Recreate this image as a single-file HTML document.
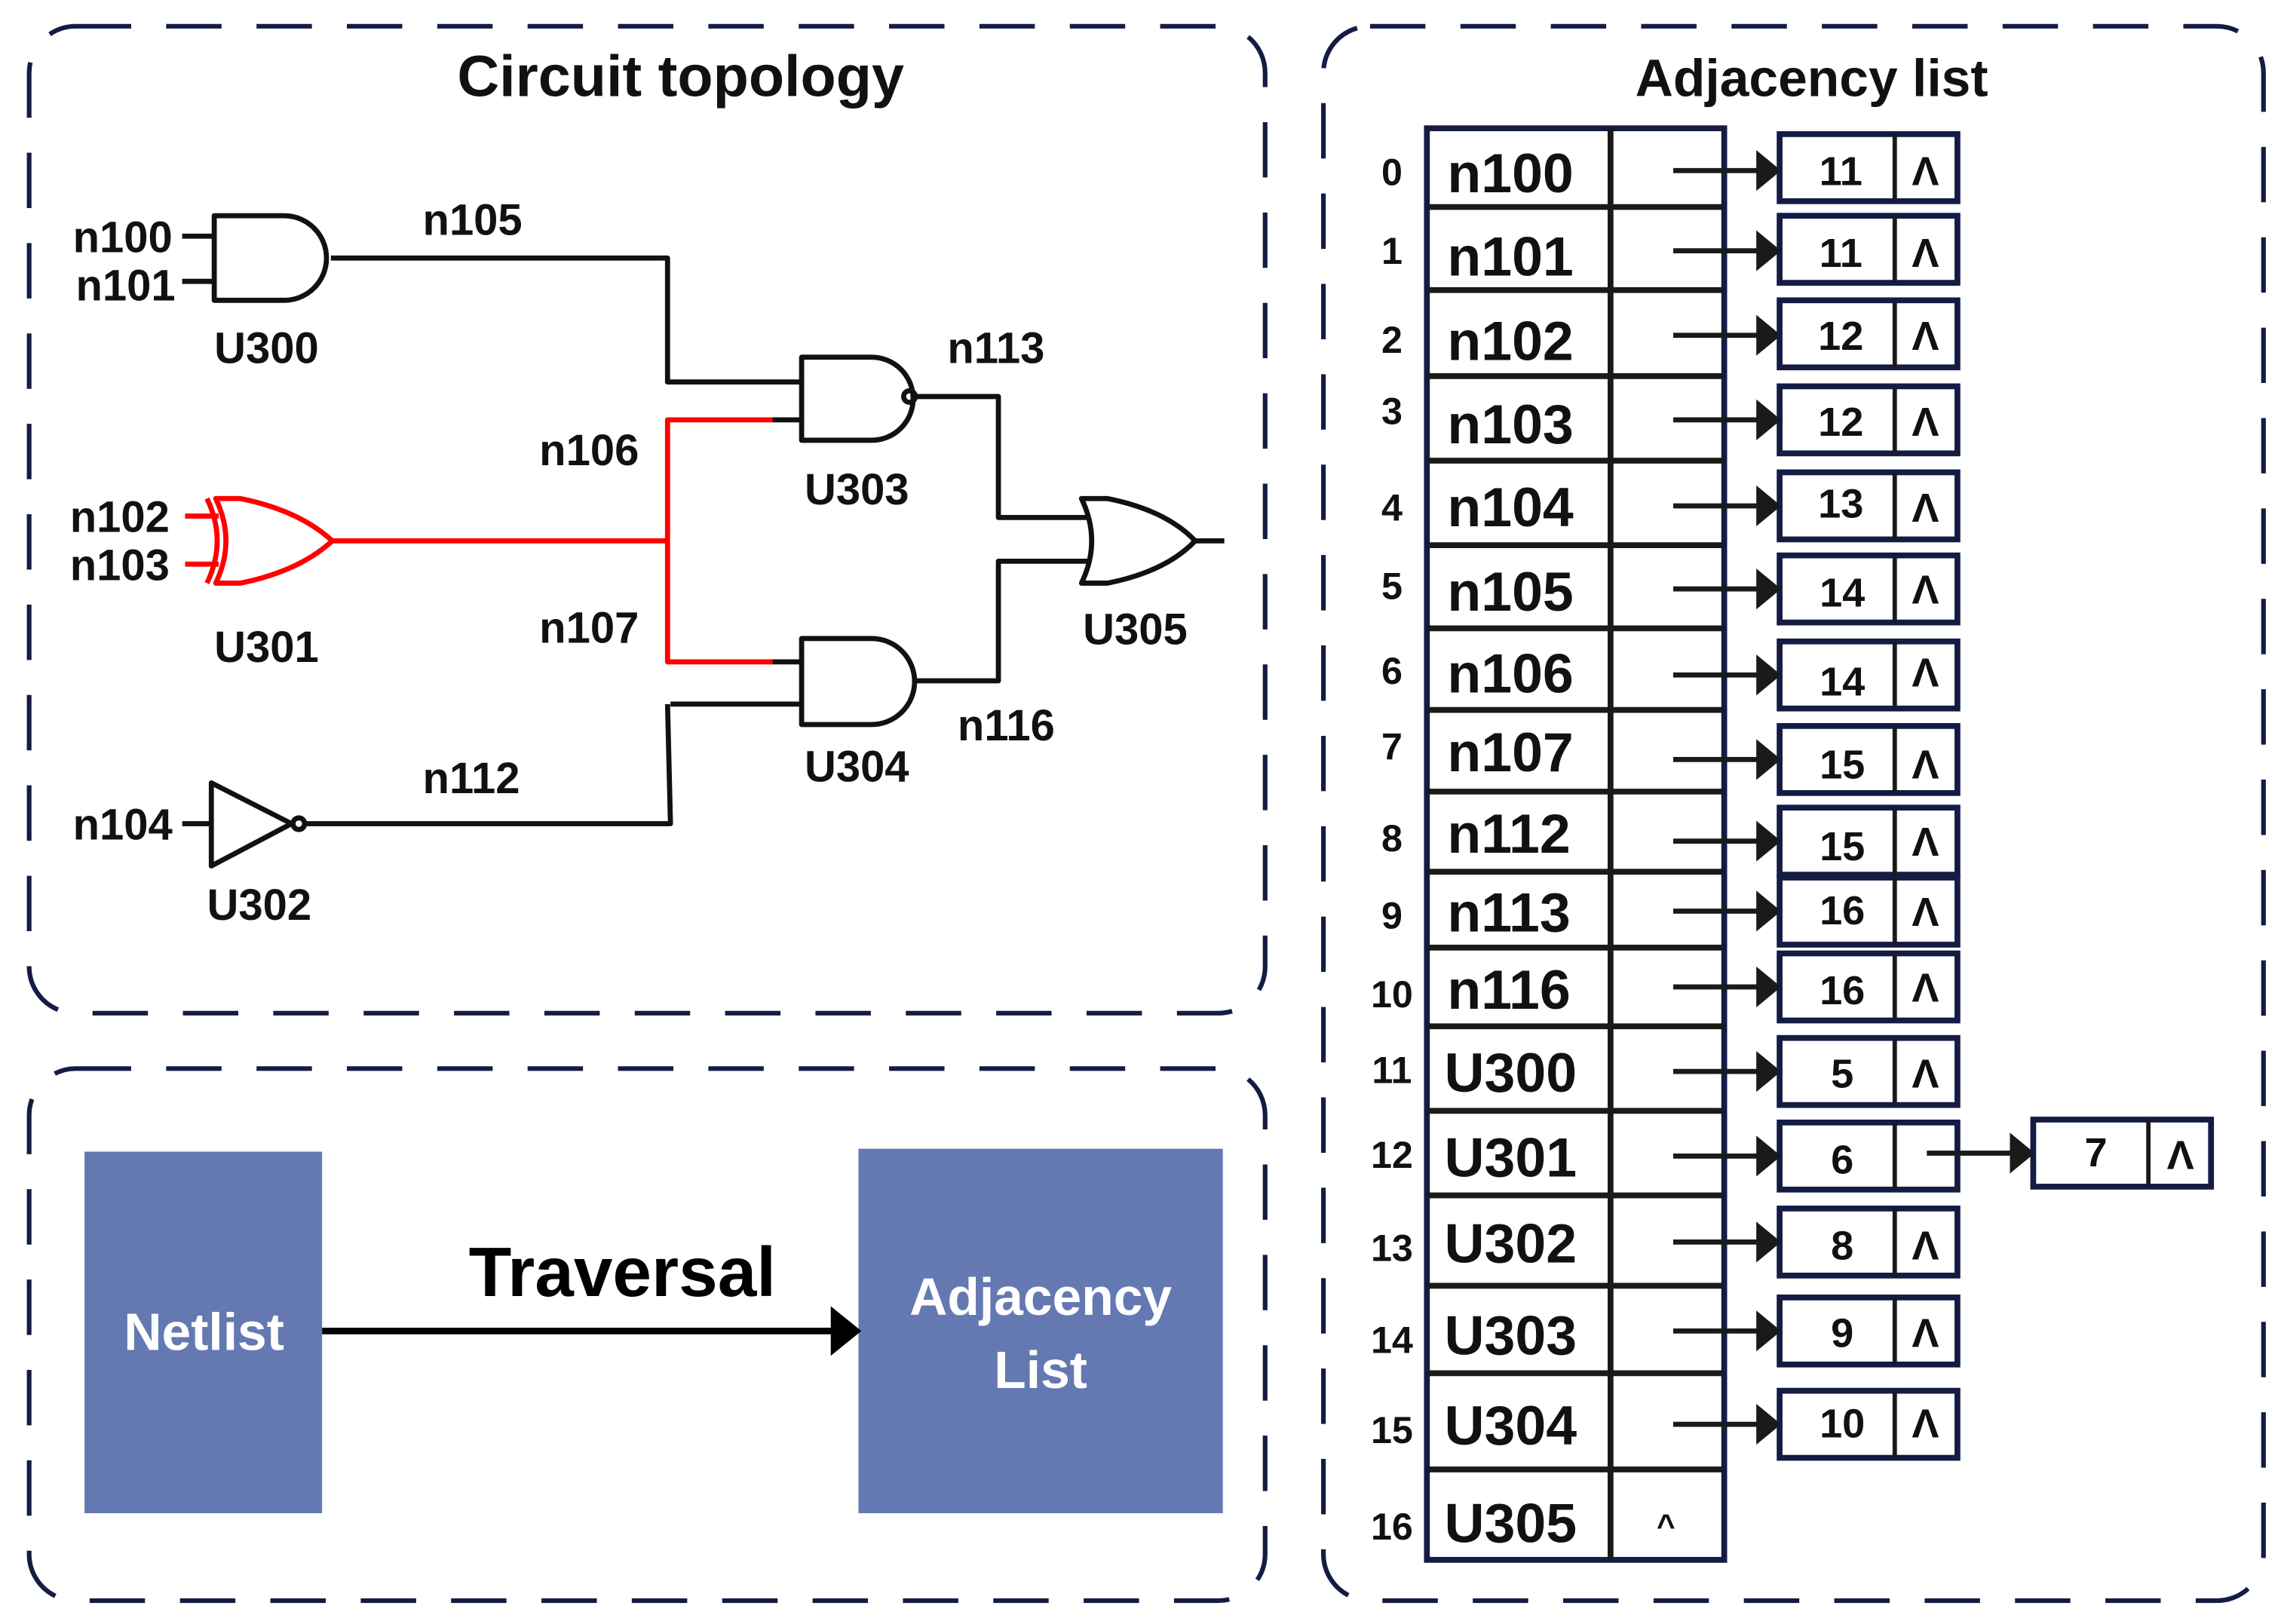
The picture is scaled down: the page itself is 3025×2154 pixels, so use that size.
<!DOCTYPE html>
<html><head><meta charset="utf-8"><style>
html,body{margin:0;padding:0;background:#fff}
svg{display:block}
text{font-family:"Liberation Sans",sans-serif;font-weight:bold;fill:#111}
</style></head><body>
<svg width="3025" height="2154" viewBox="0 0 1565 1114" preserveAspectRatio="none" xmlns="http://www.w3.org/2000/svg">
<g fill="none" stroke="#141c44" stroke-width="3.2" stroke-dasharray="38 24">
<rect x="20" y="18" width="848" height="677" rx="32"/>
<rect x="20" y="733" width="848" height="365" rx="32"/>
<rect x="908" y="18" width="645" height="1080" rx="32"/>
</g>
<text x="467" y="66" font-size="40" text-anchor="middle">Circuit topology</text>
<text x="1243" y="66" font-size="36" text-anchor="middle">Adjacency list</text>

<!-- circuit -->
<g fill="none" stroke="#111" stroke-width="3.5" stroke-linejoin="round">
<line x1="125" y1="162" x2="147" y2="162"/><line x1="125" y1="193" x2="147" y2="193"/>
<path d="M147 148 H195 A29 29 0 0 1 195 206 H147 Z"/>
<path d="M227 177 H458 V262 H550"/>
<line x1="530" y1="288" x2="550" y2="288"/>
<path d="M550 245 H598 A28.5 28.5 0 0 1 598 302 H550 Z"/>
<circle cx="624" cy="272" r="4"/>
<path d="M628 272 H685 V355 H748"/>
<line x1="530" y1="454" x2="550" y2="454"/>
<line x1="460" y1="483" x2="550" y2="483"/>
<path d="M550 438 H598 A29.5 29.5 0 0 1 598 497 H550 Z"/>
<path d="M628 467 H685 V385 H748"/>
<path d="M742 342 H760 Q800 350 820 371 Q800 392 760 400 H742 Q756 371 742 342 Z"/>
<line x1="820" y1="371" x2="840" y2="371"/>
<line x1="125" y1="565" x2="145" y2="565"/>
<path d="M145 537 L200 565 L145 594 Z"/>
<circle cx="205" cy="565" r="4"/>
<path d="M209 565 H460 L458 483"/>
</g>
<g fill="none" stroke="#f00" stroke-width="3.5" stroke-linejoin="round">
<line x1="127" y1="354" x2="150" y2="354"/><line x1="127" y1="387" x2="150" y2="387"/>
<path d="M148 342 H165 Q205 350 228 371 Q205 392 165 400 H148 Q162 371 148 342 Z"/>
<path d="M142 342 Q156 371 142 400"/>
<path d="M228 371 H458"/>
<path d="M530 288 H458 V454 H530"/>
</g>
<g font-size="30">
<text x="50" y="173">n100</text><text x="52" y="206">n101</text>
<text x="147" y="249">U300</text><text x="290" y="161">n105</text>
<text x="650" y="249">n113</text><text x="552" y="346">U303</text>
<text x="370" y="319">n106</text><text x="48" y="365">n102</text>
<text x="48" y="398">n103</text><text x="147" y="454">U301</text>
<text x="370" y="441">n107</text><text x="743" y="442">U305</text>
<text x="657" y="508">n116</text><text x="552" y="536">U304</text>
<text x="290" y="544">n112</text><text x="50" y="576">n104</text>
<text x="142" y="631">U302</text>
</g>

<!-- bottom left -->
<rect x="58" y="790" width="163" height="248" fill="#6479b1"/>
<rect x="589" y="788" width="250" height="250" fill="#6479b1"/>
<line x1="221" y1="913" x2="575" y2="913" stroke="#000" stroke-width="4.5"/>
<path d="M570 896 L591 913 L570 930 Z" fill="#000"/>
<text x="427" y="889" font-size="48" text-anchor="middle" fill="#000" style="fill:#000">Traversal</text>
<text x="140" y="926" font-size="36" text-anchor="middle" style="fill:#fff">Netlist</text>
<text x="714" y="902" font-size="36" text-anchor="middle" style="fill:#fff">Adjacency</text>
<text x="714" y="952" font-size="36" text-anchor="middle" style="fill:#fff">List</text>

<!-- table -->
<g id="tbl"></g>
<rect x="979" y="88" width="204" height="982" fill="none" stroke="#141c44" stroke-width="4"/>
<line x1="1105" y1="88" x2="1105" y2="1070" stroke="#1a1a1a" stroke-width="4"/>
<g stroke="#1a1a1a" stroke-width="4">
<line x1="979" y1="142" x2="1183" y2="142"/><line x1="979" y1="199" x2="1183" y2="199"/>
<line x1="979" y1="258" x2="1183" y2="258"/><line x1="979" y1="316" x2="1183" y2="316"/>
<line x1="979" y1="374" x2="1183" y2="374"/><line x1="979" y1="431" x2="1183" y2="431"/>
<line x1="979" y1="487" x2="1183" y2="487"/><line x1="979" y1="543" x2="1183" y2="543"/>
<line x1="979" y1="598" x2="1183" y2="598"/><line x1="979" y1="650" x2="1183" y2="650"/>
<line x1="979" y1="704" x2="1183" y2="704"/><line x1="979" y1="762" x2="1183" y2="762"/>
<line x1="979" y1="820" x2="1183" y2="820"/><line x1="979" y1="882" x2="1183" y2="882"/>
<line x1="979" y1="942" x2="1183" y2="942"/><line x1="979" y1="1008" x2="1183" y2="1008"/>
</g>
<g font-size="38">
<text x="993" y="132">n100</text><text x="993" y="189">n101</text><text x="993" y="247">n102</text>
<text x="993" y="304">n103</text><text x="993" y="361">n104</text><text x="993" y="419">n105</text>
<text x="993" y="475">n106</text><text x="993" y="529">n107</text><text x="993" y="585">n112</text>
<text x="993" y="639">n113</text><text x="993" y="692">n116</text><text x="991" y="749">U300</text>
<text x="991" y="807">U301</text><text x="991" y="866">U302</text><text x="991" y="929">U303</text>
<text x="991" y="991">U304</text><text x="991" y="1058">U305</text>
</g>
<g font-size="26" text-anchor="middle">
<text x="955" y="127">0</text><text x="955" y="181">1</text><text x="955" y="242">2</text>
<text x="955" y="291">3</text><text x="955" y="357">4</text><text x="955" y="411">5</text>
<text x="955" y="469">6</text><text x="955" y="521">7</text><text x="955" y="584">8</text>
<text x="955" y="637">9</text><text x="955" y="691">10</text><text x="955" y="743">11</text>
<text x="955" y="801">12</text><text x="955" y="865">13</text><text x="955" y="928">14</text>
<text x="955" y="990">15</text><text x="955" y="1056">16</text>
</g>
<text x="1143" y="1054" font-size="22" text-anchor="middle">^</text>

<!-- nodes -->
<g stroke="#141c44" stroke-width="4" fill="none">
<rect x="1221" y="92" width="122" height="46"/><rect x="1221" y="148" width="122" height="46"/>
<rect x="1221" y="206" width="122" height="46"/><rect x="1221" y="265" width="122" height="46"/>
<rect x="1221" y="324" width="122" height="46"/><rect x="1221" y="381" width="122" height="46"/>
<rect x="1221" y="440" width="122" height="46"/><rect x="1221" y="498" width="122" height="46"/>
<rect x="1221" y="554" width="122" height="46"/><rect x="1221" y="602" width="122" height="46"/>
<rect x="1221" y="654" width="122" height="46"/><rect x="1221" y="712" width="122" height="46"/>
<rect x="1221" y="770" width="122" height="46"/><rect x="1221" y="829" width="122" height="46"/>
<rect x="1221" y="890" width="122" height="46"/><rect x="1221" y="954" width="122" height="46"/>
<rect x="1395" y="768" width="122" height="46"/>
</g>
<g stroke="#1a1a1a" stroke-width="3">
<line x1="1300" y1="92" x2="1300" y2="138"/><line x1="1300" y1="148" x2="1300" y2="194"/>
<line x1="1300" y1="206" x2="1300" y2="252"/><line x1="1300" y1="265" x2="1300" y2="311"/>
<line x1="1300" y1="324" x2="1300" y2="370"/><line x1="1300" y1="381" x2="1300" y2="427"/>
<line x1="1300" y1="440" x2="1300" y2="486"/><line x1="1300" y1="498" x2="1300" y2="544"/>
<line x1="1300" y1="554" x2="1300" y2="600"/><line x1="1300" y1="602" x2="1300" y2="648"/>
<line x1="1300" y1="654" x2="1300" y2="700"/><line x1="1300" y1="712" x2="1300" y2="758"/>
<line x1="1300" y1="770" x2="1300" y2="816"/><line x1="1300" y1="829" x2="1300" y2="875"/>
<line x1="1300" y1="890" x2="1300" y2="936"/><line x1="1300" y1="954" x2="1300" y2="1000"/>
<line x1="1474" y1="768" x2="1474" y2="814"/>
</g>
<g font-size="28" text-anchor="middle">
<text x="1263" y="127">11</text><text x="1263" y="183">11</text><text x="1263" y="240">12</text>
<text x="1263" y="299">12</text><text x="1263" y="355">13</text><text x="1264" y="416">14</text>
<text x="1264" y="477">14</text><text x="1264" y="534">15</text><text x="1264" y="590">15</text>
<text x="1264" y="634">16</text><text x="1264" y="689">16</text><text x="1264" y="746">5</text>
<text x="1264" y="805">6</text><text x="1264" y="864">8</text><text x="1264" y="924">9</text>
<text x="1264" y="986">10</text><text x="1438" y="800">7</text>
</g>
<g font-size="28" text-anchor="middle" font-weight="normal">
<text x="1321" y="127">Λ</text><text x="1321" y="183">Λ</text><text x="1321" y="240">Λ</text>
<text x="1321" y="299">Λ</text><text x="1321" y="358">Λ</text><text x="1321" y="414">Λ</text>
<text x="1321" y="471">Λ</text><text x="1321" y="534">Λ</text><text x="1321" y="587">Λ</text>
<text x="1321" y="635">Λ</text><text x="1321" y="687">Λ</text><text x="1321" y="746">Λ</text>
<text x="1321" y="864">Λ</text><text x="1321" y="924">Λ</text><text x="1321" y="986">Λ</text>
<text x="1496" y="802">Λ</text>
</g>
<g stroke="#1a1a1a" stroke-width="3.5">
<line x1="1148" y1="117" x2="1210" y2="117"/><line x1="1148" y1="172" x2="1210" y2="172"/>
<line x1="1148" y1="230" x2="1210" y2="230"/><line x1="1148" y1="288" x2="1210" y2="288"/>
<line x1="1148" y1="347" x2="1210" y2="347"/><line x1="1148" y1="404" x2="1210" y2="404"/>
<line x1="1148" y1="463" x2="1210" y2="463"/><line x1="1148" y1="521" x2="1210" y2="521"/>
<line x1="1148" y1="577" x2="1210" y2="577"/><line x1="1148" y1="625" x2="1210" y2="625"/>
<line x1="1148" y1="677" x2="1210" y2="677"/><line x1="1148" y1="735" x2="1210" y2="735"/>
<line x1="1148" y1="793" x2="1210" y2="793"/><line x1="1148" y1="852" x2="1210" y2="852"/>
<line x1="1148" y1="913" x2="1210" y2="913"/><line x1="1148" y1="977" x2="1210" y2="977"/>
<line x1="1322" y1="791" x2="1384" y2="791"/>
</g>
<g fill="#1a1a1a">
<path d="M1205 103 L1222 117 L1205 131Z"/><path d="M1205 158 L1222 172 L1205 186Z"/>
<path d="M1205 216 L1222 230 L1205 244Z"/><path d="M1205 274 L1222 288 L1205 302Z"/>
<path d="M1205 333 L1222 347 L1205 361Z"/><path d="M1205 390 L1222 404 L1205 418Z"/>
<path d="M1205 449 L1222 463 L1205 477Z"/><path d="M1205 507 L1222 521 L1205 535Z"/>
<path d="M1205 563 L1222 577 L1205 591Z"/><path d="M1205 611 L1222 625 L1205 639Z"/>
<path d="M1205 663 L1222 677 L1205 691Z"/><path d="M1205 721 L1222 735 L1205 749Z"/>
<path d="M1205 779 L1222 793 L1205 807Z"/><path d="M1205 838 L1222 852 L1205 866Z"/>
<path d="M1205 899 L1222 913 L1205 927Z"/><path d="M1205 963 L1222 977 L1205 991Z"/>
<path d="M1379 777 L1396 791 L1379 805Z"/>
</g>
</svg>
</body></html>
